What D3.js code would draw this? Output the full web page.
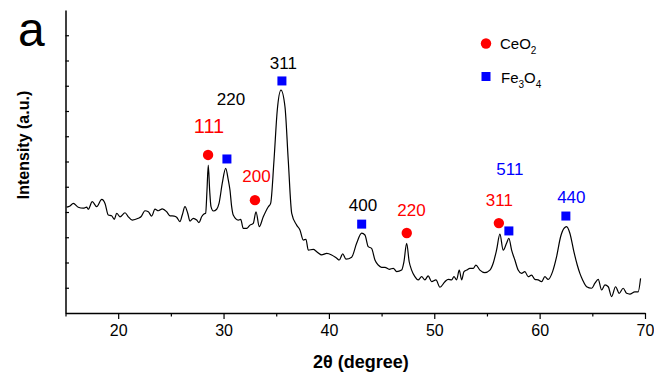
<!DOCTYPE html>
<html>
<head>
<meta charset="utf-8">
<script src="https://cdn.jsdelivr.net/npm/d3@7"></script>
<style>
  html, body { margin: 0; padding: 0; background: #fff; }
  svg { display: block; font-family: "Liberation Sans", Arial, sans-serif; }
</style>
</head>
<body>
<svg id="chart" width="654" height="383"></svg>
<script>
// ---- data ----
const twoTheta = [
  15.11,15.43,15.74,16.21,16.69,17.01,17.16,17.54,17.96,18.44,
  18.75,19.06,19.38,19.63,19.86,20.17,20.65,20.96,21.34,21.91,
  22.16,22.54,22.86,23.18,23.49,23.81,24.19,24.60,24.92,25.32,
  25.55,25.86,26.08,26.34,26.60,26.81,27.13,27.45,27.67,27.92,
  28.14,28.30,28.43,28.55,28.68,28.81,29.03,29.35,29.57,29.88,
  30.20,30.45,30.61,30.77,30.92,31.40,31.63,31.87,32.19,32.51,
  32.82,33.08,33.39,33.77,34.25,34.47,34.79,35.10,35.45,35.83,
  36.14,36.47,36.94,37.25,37.57,37.82,38.04,38.52,38.84,39.31,
  39.79,40.26,40.74,40.98,41.31,41.62,42.16,42.63,43.11,43.42,
  43.73,44.05,44.37,44.68,45.00,45.32,45.73,46.11,46.43,46.90,
  47.12,47.38,47.62,47.85,48.16,48.47,48.80,49.11,49.42,49.75,
  50.16,50.54,51.01,51.33,51.65,51.87,52.12,52.37,52.60,52.82,
  53.07,53.39,53.70,53.95,54.33,54.80,55.28,55.59,55.91,56.23,
  56.54,56.86,57.08,57.34,57.65,57.96,58.28,58.60,58.91,59.23,
  59.55,59.86,60.18,60.50,60.81,61.23,61.61,61.99,62.31,62.56,
  62.87,63.25,63.57,63.82,64.08,64.46,64.93,65.25,65.56,65.88,
  66.20,66.51,66.83,67.21,67.55,67.93,68.25,68.56,69.04,69.35,69.58
];
const intensity = [
  419,424,434,419,415,419,411,441,421,450,
  434,388,385,371,395,381,397,381,368,375,
  381,405,401,384,411,405,412,401,385,384,
  379,362,388,421,395,364,375,368,358,381,
  392,395,487,586,487,421,404,411,434,514,
  573,527,487,421,388,368,371,335,335,348,
  355,401,342,381,421,434,606,804,883,817,
  606,395,348,329,289,292,249,252,243,230,
  236,230,217,210,234,213,221,276,316,309,
  263,256,210,190,181,181,173,177,164,170,
  203,276,203,170,144,131,144,131,147,124,
  131,102,124,133,131,144,131,170,131,164,
  170,177,177,190,170,160,170,197,249,312,
  249,276,296,249,210,170,157,164,144,150,
  133,131,124,144,133,164,223,302,335,342,
  316,243,190,157,131,104,98,118,133,91,
  111,104,65,104,78,98,78,75,84,84,137
];

// phase markers (2theta, marker height)
const ceo2Theta = [28.53, 32.98, 47.39, 56.13];
const ceo2Mark  = [626, 447, 317, 356];
const fe3o4Theta = [30.32, 35.54, 43.11, 57.08, 62.49];
const fe3o4Mark  = [610, 919, 352, 325, 384];

// Miller index annotations
const hklText  = ["111", "220", "311", "200", "400", "220", "311", "511", "440"];
const hklPhase = ["CeO2", "Fe3O4k", "Fe3O4k", "CeO2", "Fe3O4k", "CeO2", "CeO2", "Fe3O4", "Fe3O4"];
const hklTheta = [28.62, 30.70, 35.68, 33.12, 43.23, 47.83, 56.18, 57.17, 63.01];
const hklY     = [713, 824, 966, 517, 402, 384, 424, 546, 436];

const xTicks = [20, 30, 40, 50, 60, 70];
const xMinorTicks = [15, 25, 35, 45, 55, 65];
const yTicks = [100, 200, 300, 400, 500, 600, 700, 800, 900, 1000, 1100];

// ---- drawing ----
const svg = d3.select("#chart");
const x = d3.scaleLinear().domain([15, 70]).range([65.5, 645]);
const y = d3.scaleLinear().domain([0, 1200]).range([313, 10]);

const phaseColor = { "CeO2": "#ff0000", "Fe3O4": "#0000ff", "Fe3O4k": "#000000" };

// x axis
const xAxis = d3.axisBottom(x).tickValues(xTicks).tickSize(6).tickSizeOuter(0).tickPadding(6);
const gx = svg.append("g").attr("transform", "translate(0,313)").call(xAxis);
gx.select(".domain").attr("stroke", "#000").attr("stroke-width", 1.5);
gx.selectAll(".tick line").attr("stroke", "#000").attr("stroke-width", 1.2);
gx.selectAll(".tick text").attr("font-size", 16).attr("fill", "#000")
  .attr("font-family", "'Liberation Sans', Arial, sans-serif");
const xAxisMinor = d3.axisBottom(x).tickValues(xMinorTicks).tickSize(3.5).tickSizeOuter(0).tickFormat("");
const gxm = svg.append("g").attr("transform", "translate(0,313)").call(xAxisMinor);
gxm.select(".domain").remove();
gxm.selectAll(".tick line").attr("stroke", "#000").attr("stroke-width", 1.2);

// y axis (ticks inside, no labels)
const yAxis = d3.axisRight(y).tickValues(yTicks).tickSize(3.5).tickSizeOuter(0).tickFormat("");
const gy = svg.append("g").attr("transform", "translate(65.5,0)").call(yAxis);
gy.select(".domain").attr("stroke", "#000").attr("stroke-width", 1.5);
gy.selectAll(".tick line").attr("stroke", "#000").attr("stroke-width", 1.2);

// pattern line
const pts = twoTheta.map((t, i) => [t, intensity[i]]);
const line = d3.line().x(d => x(d[0])).y(d => y(d[1])).curve(d3.curveMonotoneX);
svg.append("path").datum(pts).attr("d", line)
  .attr("fill", "none").attr("stroke", "#000").attr("stroke-width", 1.2);

// markers
svg.append("g").selectAll("circle").data(ceo2Theta).join("circle")
  .attr("cx", d => x(d)).attr("cy", (d, i) => y(ceo2Mark[i])).attr("r", 5.2)
  .attr("fill", "#ff0000");
const sq = 9;
svg.append("g").selectAll("rect").data(fe3o4Theta).join("rect")
  .attr("x", d => x(d) - sq / 2).attr("y", (d, i) => y(fe3o4Mark[i]) - sq / 2)
  .attr("width", sq).attr("height", sq).attr("fill", "#0000ff");

// hkl labels
svg.append("g").selectAll("text").data(hklText).join("text")
  .attr("x", (d, i) => x(hklTheta[i])).attr("y", (d, i) => y(hklY[i]))
  .attr("text-anchor", "middle")
  .attr("font-size", (d, i) => i === 0 ? 20 : 17)
  .attr("fill", (d, i) => phaseColor[hklPhase[i]])
  .text(d => d);

// legend
svg.append("circle").attr("cx", 486).attr("cy", 43.5).attr("r", 5.2).attr("fill", "#ff0000");
const l1 = svg.append("text").attr("x", 500).attr("y", 48.5).attr("font-size", 15).attr("fill", "#000");
l1.append("tspan").text("CeO");
l1.append("tspan").attr("dy", 5).attr("font-size", 10).text("2");
svg.append("rect").attr("x", 486 - sq / 2).attr("y", 76.5 - sq / 2).attr("width", sq).attr("height", sq).attr("fill", "#0000ff");
const l2 = svg.append("text").attr("x", 501).attr("y", 82.5).attr("font-size", 15).attr("fill", "#000");
l2.append("tspan").text("Fe");
l2.append("tspan").attr("dy", 5).attr("font-size", 10).text("3");
l2.append("tspan").attr("dy", -5).text("O");
l2.append("tspan").attr("dy", 5).attr("font-size", 10).text("4");

// axis titles
svg.append("text").attr("x", 361).attr("y", 368).attr("text-anchor", "middle")
  .attr("font-size", 18).attr("font-weight", "bold").text("2θ (degree)");
svg.append("text").attr("transform", "translate(29,145) rotate(-90)")
  .attr("text-anchor", "middle").attr("font-size", 16).attr("font-weight", "bold")
  .text("Intensity (a.u.)");

// panel letter
svg.append("text").attr("x", 18).attr("y", 46).attr("font-size", 48).text("a");
</script>
</body>
</html>
